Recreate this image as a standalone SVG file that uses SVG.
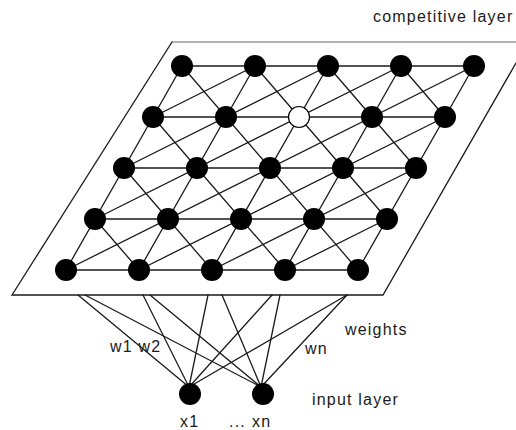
<svg xmlns="http://www.w3.org/2000/svg" width="516" height="430" viewBox="0 0 516 430">
<style>
.ln{stroke:#1a1a1a;stroke-width:1.3;fill:none;stroke-linecap:round}
.n{fill:#000}
.w{fill:#fff;stroke:#000;stroke-width:1.2}
.t{font-family:"Liberation Sans",Arial,sans-serif;font-size:16px;fill:#1a1a1a;letter-spacing:1.2px}
</style>
<rect width="516" height="430" fill="#fff"/>
<g id="plane">
<polyline points="528,42 172,42" fill="none" stroke="#9a9a9a" stroke-width="1.5"/>
<polyline points="172,42 12,295 383,295 528,42" class="ln"/>
</g>
<g id="connectors">
<line class="ln" x1="182" y1="66" x2="474" y2="66"/>
<line class="ln" x1="153" y1="117" x2="445" y2="117"/>
<line class="ln" x1="124" y1="168" x2="416" y2="168"/>
<line class="ln" x1="95" y1="219" x2="387" y2="219"/>
<line class="ln" x1="66" y1="270" x2="358" y2="270"/>
<line class="ln" x1="182" y1="66" x2="66" y2="270"/>
<line class="ln" x1="255" y1="66" x2="139" y2="270"/>
<line class="ln" x1="328" y1="66" x2="212" y2="270"/>
<line class="ln" x1="401" y1="66" x2="285" y2="270"/>
<line class="ln" x1="474" y1="66" x2="358" y2="270"/>
<line class="ln" x1="182" y1="66" x2="358" y2="270"/>
<line class="ln" x1="255" y1="66" x2="387" y2="219"/>
<line class="ln" x1="328" y1="66" x2="416" y2="168"/>
<line class="ln" x1="401" y1="66" x2="445" y2="117"/>
<line class="ln" x1="153" y1="117" x2="285" y2="270"/>
<line class="ln" x1="124" y1="168" x2="212" y2="270"/>
<line class="ln" x1="95" y1="219" x2="139" y2="270"/>
<line class="ln" x1="255" y1="66" x2="153" y2="117"/>
<line class="ln" x1="328" y1="66" x2="124" y2="168"/>
<line class="ln" x1="401" y1="66" x2="95" y2="219"/>
<line class="ln" x1="474" y1="66" x2="66" y2="270"/>
<line class="ln" x1="445" y1="117" x2="139" y2="270"/>
<line class="ln" x1="416" y1="168" x2="212" y2="270"/>
<line class="ln" x1="387" y1="219" x2="285" y2="270"/>
<line class="ln" x1="78" y1="295" x2="189" y2="387"/>
<line class="ln" x1="143" y1="295" x2="189" y2="387"/>
<line class="ln" x1="208" y1="295" x2="189" y2="387"/>
<line class="ln" x1="272" y1="295" x2="189" y2="387"/>
<line class="ln" x1="347" y1="295" x2="189" y2="387"/>
<line class="ln" x1="85" y1="295" x2="261" y2="387"/>
<line class="ln" x1="150" y1="295" x2="261" y2="387"/>
<line class="ln" x1="222" y1="295" x2="261" y2="387"/>
<line class="ln" x1="280" y1="295" x2="261" y2="387"/>
<line class="ln" x1="347" y1="295" x2="261" y2="387"/>
</g>
<g id="node-r0c0"><circle class="n" cx="182" cy="66" r="11"/></g>
<g id="node-r0c1"><circle class="n" cx="255" cy="66" r="11"/></g>
<g id="node-r0c2"><circle class="n" cx="328" cy="66" r="11"/></g>
<g id="node-r0c3"><circle class="n" cx="401" cy="66" r="11"/></g>
<g id="node-r0c4"><circle class="n" cx="474" cy="66" r="11"/></g>
<g id="node-r1c0"><circle class="n" cx="153" cy="117" r="11"/></g>
<g id="node-r1c1"><circle class="n" cx="226" cy="117" r="11"/></g>
<g id="node-r1c2"><circle class="w" cx="299" cy="117" r="10.5"/></g>
<g id="node-r1c3"><circle class="n" cx="372" cy="117" r="11"/></g>
<g id="node-r1c4"><circle class="n" cx="445" cy="117" r="11"/></g>
<g id="node-r2c0"><circle class="n" cx="124" cy="168" r="11"/></g>
<g id="node-r2c1"><circle class="n" cx="197" cy="168" r="11"/></g>
<g id="node-r2c2"><circle class="n" cx="270" cy="168" r="11"/></g>
<g id="node-r2c3"><circle class="n" cx="343" cy="168" r="11"/></g>
<g id="node-r2c4"><circle class="n" cx="416" cy="168" r="11"/></g>
<g id="node-r3c0"><circle class="n" cx="95" cy="219" r="11"/></g>
<g id="node-r3c1"><circle class="n" cx="168" cy="219" r="11"/></g>
<g id="node-r3c2"><circle class="n" cx="241" cy="219" r="11"/></g>
<g id="node-r3c3"><circle class="n" cx="314" cy="219" r="11"/></g>
<g id="node-r3c4"><circle class="n" cx="387" cy="219" r="11"/></g>
<g id="node-r4c0"><circle class="n" cx="66" cy="270" r="11"/></g>
<g id="node-r4c1"><circle class="n" cx="139" cy="270" r="11"/></g>
<g id="node-r4c2"><circle class="n" cx="212" cy="270" r="11"/></g>
<g id="node-r4c3"><circle class="n" cx="285" cy="270" r="11"/></g>
<g id="node-r4c4"><circle class="n" cx="358" cy="270" r="11"/></g>
<g id="node-x1"><circle class="n" cx="190" cy="394" r="11"/><text class="t" x="180" y="427">x1</text></g>
<g id="node-xn"><circle class="n" cx="263" cy="394" r="11"/><text class="t" x="252" y="427">xn</text></g>
<g id="labels">
<text class="t" x="373" y="22">competitive layer</text>
<text class="t" x="345" y="335">weights</text>
<text class="t" x="110" y="352">w1 w2</text>
<text class="t" x="305" y="354">wn</text>
<text class="t" x="312" y="405">input layer</text>
<text class="t" x="229" y="427">...</text>
</g>
</svg>
